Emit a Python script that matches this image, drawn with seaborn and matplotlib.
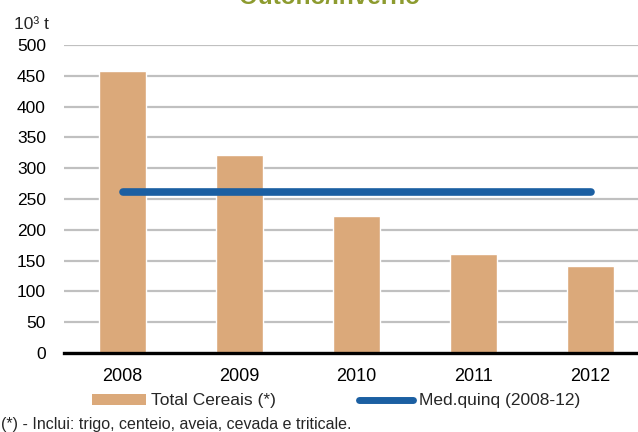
import numpy as np
import pandas as pd
import matplotlib
matplotlib.use('Agg')
import matplotlib.pyplot as plt
from matplotlib.patches import Patch
from matplotlib.lines import Line2D
import seaborn as sns

# dados (10^3 t)
anos = ['2008', '2009', '2010', '2011', '2012']
total_cereais = [458, 322, 222, 161, 141]
med_quinq = [261, 261, 261, 261, 261]
y_ticks = [0, 50, 100, 150, 200, 250, 300, 350, 400, 450, 500]

cor_barra = '#DBA97A'
cor_linha = '#1B5FA2'
cor_titulo = '#8D9B2F'

sns.set_style('white')
plt.rcParams['font.family'] = ['Liberation Sans', 'DejaVu Sans']

df = pd.DataFrame({'ano': anos, 'total': total_cereais})

fig = plt.figure(figsize=(6.38, 4.32), dpi=100)
ax = fig.add_axes([64 / 638, 1 - 353 / 432, 585 / 638, 308 / 432])

sns.barplot(data=df, x='ano', y='total', color=cor_barra, saturation=1,
            width=0.4, ax=ax, zorder=2)
x = np.arange(len(anos))
ax.plot(x, med_quinq, color=cor_linha, lw=5.5, solid_capstyle='round', zorder=3)

ax.set_xlim(-0.5, len(anos) - 0.5)
ax.set_ylim(0, 500)
ax.set_yticks(y_ticks)
ax.yaxis.grid(True, color='#C0C0C0', lw=1.6, zorder=0)
ax.set_axisbelow(True)
ax.set_xlabel('')
ax.set_ylabel('')

for s in ['top', 'right', 'left']:
    ax.spines[s].set_visible(False)
ax.spines['bottom'].set_color('black')
ax.spines['bottom'].set_linewidth(2.4)

ax.tick_params(axis='y', length=0, pad=13, labelsize=12.5, colors='black')
ax.tick_params(axis='x', which='major', length=0, pad=11, labelsize=13, colors='black')
ax.set_xticks(np.arange(-0.5, len(anos), 1), minor=True)
ax.tick_params(axis='x', which='minor', length=4, width=1.5, direction='out', color='black')

fig.text(14 / 638, 1 - 29 / 432, '10³ t', fontsize=12.5, va='baseline', ha='left')
fig.text(330 / 638, 1 - 4 / 432, 'Outono/Inverno', fontsize=17.5, fontweight='bold',
         color=cor_titulo, ha='center', va='baseline')

handles = [Patch(facecolor=cor_barra, edgecolor='none', label='Total Cereais (*)'),
           Line2D([0], [0], color=cor_linha, lw=5, solid_capstyle='round',
                  label='Med.quinq (2008-12)')]
fig.legend(handles=handles, loc='center', bbox_to_anchor=(336 / 638, 1 - 401 / 432),
           ncol=2, frameon=False, fontsize=12.5, handlelength=3.1, handleheight=0.55,
           handletextpad=0.3, columnspacing=4.8, borderpad=0)

fig.text(1 / 638, 1 - 424 / 432, '(*) - Inclui: trigo, centeio, aveia, cevada e triticale.',
         fontsize=11.5, va='center', ha='left')

fig.savefig('out.png', dpi=100)
